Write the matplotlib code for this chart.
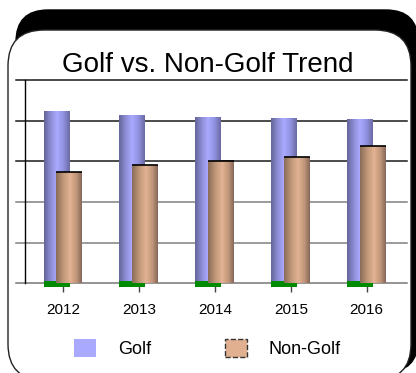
import numpy as np
import matplotlib
matplotlib.use("Agg")
import matplotlib.pyplot as plt
import matplotlib.patches as mpatches
import matplotlib.transforms as mtransforms
from matplotlib.colors import LinearSegmentedColormap

plt.rcParams['font.family'] = ['Liberation Sans', 'DejaVu Sans']

# ---- data ----
years = ['2012', '2013', '2014', '2015', '2016']
golf = [4.24, 4.14, 4.09, 4.06, 4.04]
non_golf = [2.73, 2.91, 3.02, 3.11, 3.38]
grid_levels = [0, 1, 2, 3, 4, 5]
grid_colors = ['#777777', '#808080', '#808080', '#1a1a1a', '#1a1a1a', '#1a1a1a']
title = 'Golf vs. Non-Golf Trend'
series_names = ['Golf', 'Non-Golf']

W, H = 416, 373
fig = plt.figure(figsize=(W / 100, H / 100), dpi=100)
fig.patch.set_facecolor('white')

ident = mtransforms.IdentityTransform()
# black backdrop
back = mpatches.FancyBboxPatch((16, H - 372), 402, 362,
                               boxstyle="round,pad=0,rounding_size=32",
                               facecolor='black', edgecolor='black',
                               transform=ident, zorder=-3)
fig.patches.append(back)
# white card
card = mpatches.FancyBboxPatch((8, H - 380), 403, 350,
                               boxstyle="round,pad=0,rounding_size=36",
                               facecolor='white', edgecolor='#222222', lw=1.0,
                               transform=ident, zorder=-2)
fig.patches.append(card)

left, right = 25 / W, 407 / W
bottom, top = (H - 283.3) / H, (H - 80) / H
ax = fig.add_axes([left, bottom, right - left, top - bottom])
ax.set_facecolor('none')

x = np.arange(len(years))
w = 0.342
off = 0.085

golf_cmap = LinearSegmentedColormap.from_list(
    'golf', [(0, '#65659a'), (0.25, '#8c8cd4'), (0.5, '#aaaaff'), (0.75, '#9292e2'), (1, '#6a6aa4')])
ng_cmap = LinearSegmentedColormap.from_list(
    'ng', [(0, '#8a6c58'), (0.3, '#c49a7c'), (0.55, '#e2b293'), (0.8, '#bf9579'), (1, '#86685a')])
grad = np.linspace(0, 1, 64).reshape(1, -1)

# gridlines (extend left past the axis)
for lv, c in zip(grid_levels, grid_colors):
    ax.axhline(lv, xmin=-9 / 382, xmax=1, color=c, lw=1.1, clip_on=False, zorder=1)

golf_bars = ax.bar(x - off, golf, w, color='#a9a9ff', lw=0, zorder=2)
for p in golf_bars:
    x0, y0 = p.get_x(), p.get_y()
    im = ax.imshow(grad, extent=[x0, x0 + p.get_width(), y0, y0 + p.get_height()],
                   cmap=golf_cmap, aspect='auto', interpolation='bilinear', zorder=2.1)
    im.set_clip_path(p)

base = ax.bar(x - off, [0.14] * len(x), w, bottom=-0.084, color='#008a00', lw=0,
              zorder=2.5, clip_on=False)

ng_bars = ax.bar(x + off, non_golf, w, color='#e2b293', lw=0, zorder=3)
for p in ng_bars:
    x0, y0 = p.get_x(), p.get_y()
    im = ax.imshow(grad, extent=[x0, x0 + p.get_width(), y0, y0 + p.get_height()],
                   cmap=ng_cmap, aspect='auto', interpolation='bilinear', zorder=3.1)
    im.set_clip_path(p)
    ax.plot([x0, x0 + p.get_width()], [y0 + p.get_height()] * 2, color='black',
            lw=1.2, zorder=3.2, solid_capstyle='butt')

ax.set_xlim(-0.5, 4.53)
ax.set_ylim(0, 5)
for s in ['top', 'right', 'bottom']:
    ax.spines[s].set_visible(False)
ax.spines['left'].set_color('black')
ax.spines['left'].set_linewidth(1.0)
ax.spines['left'].set_zorder(1.5)
ax.set_yticks([])
ax.set_xticks(x)
ax.set_xticklabels(years, fontsize=11)
ax.tick_params(axis='x', length=6.5, width=1, color='#444444', pad=7.5, direction='out')

fig.text(208 / W, (H - 72) / H, title, ha='center', va='baseline', fontsize=20)

h_golf = mpatches.Patch(facecolor='#a9a9ff', edgecolor='none')
h_ng = mpatches.Patch(facecolor='#e0b090', edgecolor='#333333', linestyle='--', lw=1.0)
fig.legend([h_golf, h_ng], series_names, loc='center left',
           bbox_to_anchor=(74 / W, (H - 348.5) / H), ncol=2, frameon=False,
           fontsize=13, handlelength=1.22, handleheight=1.17, handletextpad=1.2,
           columnspacing=4.1, borderpad=0, borderaxespad=0)

fig.savefig('out.png', dpi=100)
